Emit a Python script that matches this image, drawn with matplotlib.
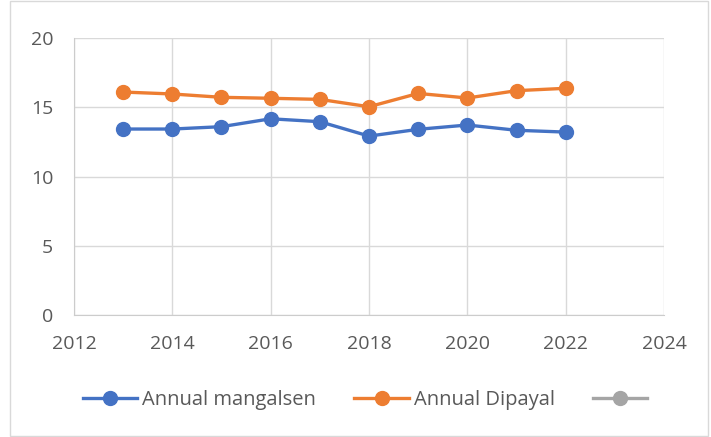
import matplotlib.pyplot as plt
from matplotlib.lines import Line2D

# data
years = [2013, 2014, 2015, 2016, 2017, 2018, 2019, 2020, 2021, 2022]
mangalsen = [13.43, 13.43, 13.6, 14.17, 13.96, 12.92, 13.41, 13.72, 13.34, 13.21]
dipayal = [16.1, 15.96, 15.72, 15.65, 15.57, 15.04, 16.0, 15.67, 16.2, 16.37]
x_ticks = [2012, 2014, 2016, 2018, 2020, 2022, 2024]
y_ticks = [0, 5, 10, 15, 20]

plt.rcParams['font.family'] = ['Open Sans', 'DejaVu Sans']

fig = plt.figure(figsize=(7.11, 4.37), dpi=100)
ax = fig.add_axes([0.104, 0.279, 0.83, 0.634])

ax.plot(years, mangalsen, color='#4472c4', lw=2.4, marker='o', ms=10, label='Annual mangalsen')
ax.plot(years, dipayal, color='#ed7d31', lw=2.4, marker='o', ms=10, label='Annual Dipayal')

ax.set_xlim(2012, 2024)
ax.set_ylim(0, 20)
ax.set_xticks(x_ticks)
ax.set_yticks(y_ticks)
ax.grid(True, color='#d9d9d9', lw=1)
ax.set_axisbelow(True)
for s in ['top', 'right']:
    ax.spines[s].set_visible(False)
ax.spines['left'].set_color('#cccccc')
ax.spines['bottom'].set_color('#cccccc')
ax.tick_params(length=0, labelsize=14, colors='#595959')
ax.tick_params(axis='x', pad=14)
ax.tick_params(axis='y', pad=15)

handles = [
    Line2D([], [], color='#4472c4', lw=2.4, marker='o', ms=10),
    Line2D([], [], color='#ed7d31', lw=2.4, marker='o', ms=10),
    Line2D([], [], color='#a5a5a5', lw=2.4, marker='o', ms=10),
]
fig.legend(handles, ['Annual mangalsen', 'Annual Dipayal', ''], loc='center',
           bbox_to_anchor=(0.517, 0.085), ncol=3, frameon=False, fontsize=14.5,
           handlelength=2.7, handletextpad=0.25, columnspacing=1.9,
           labelcolor='#595959')

fig.patches.append(plt.Rectangle((0.014, 0.003), 0.982, 0.994, transform=fig.transFigure,
                                 fill=False, edgecolor='#d9d9d9', lw=1))

fig.savefig('out.png', dpi=100)
